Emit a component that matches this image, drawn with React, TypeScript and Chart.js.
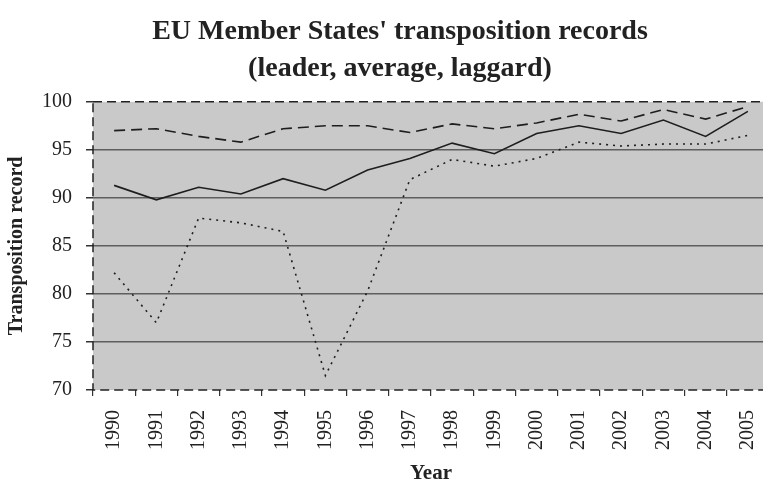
import React, { useEffect, useRef } from "react";
import { Chart, registerables } from "chart.js";

Chart.register(...registerables);

const years = ["1990", "1991", "1992", "1993", "1994", "1995", "1996", "1997", "1998", "1999", "2000", "2001", "2002", "2003", "2004", "2005"];
const leader = [97.0, 97.2, 96.4, 95.8, 97.2, 97.5, 97.5, 96.8, 97.7, 97.2, 97.8, 98.7, 98.0, 99.2, 98.2, 99.5];
const average = [91.3, 89.8, 91.1, 90.4, 92.0, 90.8, 92.9, 94.1, 95.7, 94.6, 96.7, 97.5, 96.7, 98.1, 96.4, 99.0];
const laggard = [82.2, 77.0, 87.9, 87.4, 86.5, 71.5, 80.3, 91.9, 94.0, 93.3, 94.1, 95.8, 95.4, 95.6, 95.6, 96.5];
const titleLines = ["EU Member States' transposition records", "(leader, average, laggard)"];
const yTitle = "Transposition record";
const xTitle = "Year";

const SERIF = "'Liberation Serif', 'Times New Roman', serif";

const plotFrame = {
  id: "plotFrame",
  beforeDraw(chart: any) {
    const { ctx, chartArea: a } = chart;
    ctx.save();
    ctx.fillStyle = "#c9c9ca";
    ctx.fillRect(a.left, a.top, a.right - a.left, a.bottom - a.top);
    ctx.restore();
  },
  afterDraw(chart: any) {
    const { ctx, chartArea: a } = chart;
    ctx.save();
    ctx.strokeStyle = "#222";
    ctx.lineWidth = 1.5;
    ctx.setLineDash([9, 5]);
    ctx.strokeRect(a.left, a.top, a.right - a.left, a.bottom - a.top);
    ctx.restore();
  },
};

export default function App() {
  const ref = useRef<HTMLCanvasElement>(null);
  useEffect(() => {
    if (!ref.current) return;
    const chart = new Chart(ref.current, {
      type: "line",
      data: {
        labels: years,
        datasets: [
          { label: "leader", data: leader, borderColor: "#1e1e1e", borderWidth: 1.6, borderDash: [11, 6], pointRadius: 0, tension: 0, fill: false },
          { label: "average", data: average, borderColor: "#1e1e1e", borderWidth: 1.6, pointRadius: 0, tension: 0, fill: false },
          { label: "laggard", data: laggard, borderColor: "#1e1e1e", borderWidth: 1.6, borderDash: [2, 5], pointRadius: 0, tension: 0, fill: false },
        ],
      },
      options: {
        responsive: false,
        animation: false,
        layout: { padding: 0 },
        plugins: {
          legend: { display: false },
          tooltip: { enabled: false },
          title: {
            display: true,
            text: titleLines,
            color: "#222",
            font: { family: SERIF, size: 28, weight: "bold", lineHeight: 1.3 },
            padding: { top: 14, bottom: 15 },
          },
        },
        scales: {
          x: {
            type: "category",
            offset: true,
            grid: { offset: true, drawOnChartArea: false, tickLength: 6, tickColor: "#333", lineWidth: 1.2 },
            border: { display: false },
            ticks: {
              minRotation: 90,
              maxRotation: 90,
              autoSkip: false,
              padding: 14,
              color: "#222",
              font: { family: SERIF, size: 20 },
            },
            title: {
              display: true,
              text: xTitle,
              color: "#222",
              font: { family: SERIF, size: 21, weight: "bold", lineHeight: 1.2 },
              padding: { top: 0, bottom: 0 },
            },
            afterFit(scale: any) {
              scale.height = 96;
            },
          },
          y: {
            min: 70,
            max: 100,
            ticks: { stepSize: 5, padding: 14, color: "#222", font: { family: SERIF, size: 20 } },
            grid: {
              color: (c: any) => (c.tick && (c.tick.value === 100 || c.tick.value === 70) ? "rgba(0,0,0,0)" : "#5e5e5e"),
              tickColor: "#333",
              tickLength: 7,
              lineWidth: 1.5,
            },
            border: { display: false },
            title: {
              display: true,
              text: yTitle,
              color: "#222",
              font: { family: SERIF, size: 20, weight: "bold", lineHeight: 1.2 },
              padding: { top: 5, bottom: 0 },
            },
            afterFit(scale: any) {
              scale.width = 93;
            },
          },
          yRight: {
            type: "linear",
            position: "right",
            display: true,
            ticks: { display: false },
            grid: { display: false },
            border: { display: false },
            afterFit(scale: any) {
              scale.width = 31;
            },
          },
        },
      },
      plugins: [plotFrame],
    });
    return () => chart.destroy();
  }, []);
  return (
    <div style={{ position: "fixed", left: 0, top: 0, width: 763, height: 486, overflow: "hidden", background: "#fff" }}>
      <canvas ref={ref} width={800} height={486} style={{ display: "block", width: 800, height: 486 }} />
    </div>
  );
}
